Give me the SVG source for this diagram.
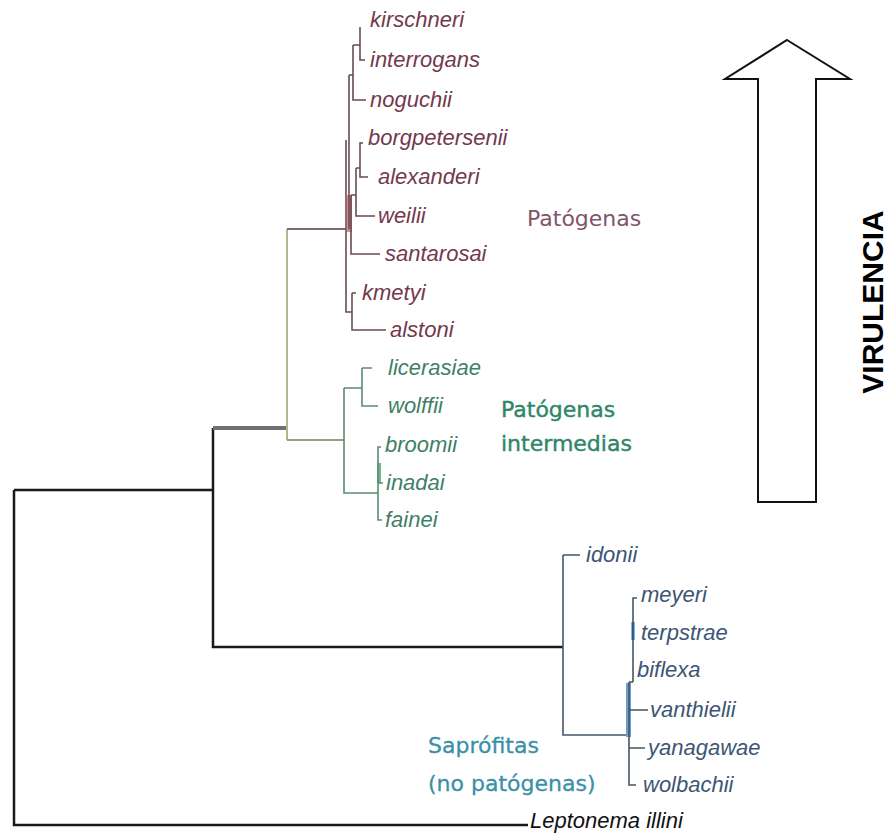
<svg xmlns="http://www.w3.org/2000/svg" width="890" height="834" viewBox="0 0 890 834">
  <style>
    .sp { font-family: "Liberation Sans", Arial, sans-serif; font-style: italic; font-size: 22px; }
    .pat { fill: #73394d; }
    .int { fill: #3f7f66; }
    .sap { fill: #3d5575; }
    .out { fill: #111111; }
    .grp { font-family: "DejaVu Sans", Verdana, sans-serif; font-size: 22px; }
    .root { stroke: #1a1a1a; stroke-width: 2.5; fill: none; }
    .lp { stroke: #6a4a55; stroke-width: 1.6; fill: none; }
    .lg { stroke: #5c8c74; stroke-width: 1.6; fill: none; }
    .ls { stroke: #44556a; stroke-width: 1.6; fill: none; }
  </style>
  <rect width="890" height="834" fill="#ffffff"/>

  <!-- tree branches -->
  <g id="connectors">
    <!-- root and outgroup -->
    <path class="root" d="M14 490 V825 H528 M14 490 H213 M213 428 V647 H563"/>
    <path d="M213 428 H287" stroke="#707070" stroke-width="4" fill="none"/>
    <path d="M287 229 V440" stroke="#b7b58f" stroke-width="2" fill="none"/>
    <path d="M287 229 H346" stroke="#7a6a6e" stroke-width="1.8" fill="none"/>
    <path d="M287 440 H344" stroke="#9a9a82" stroke-width="1.8" fill="none"/>

    <!-- pathogenic clade -->
    <rect x="347" y="195" width="5" height="37" fill="#d98a8a"/>
    <path class="lp" d="M360 27 V60 H365 M353 45 H360 M353 45 V100 H366 M349 75 H353 M349 75 V229"/>
    <path class="lp" d="M363 143 H360 V177 H368 M356 168 H360 M356 168 V216 H375 M351 195 H356 M351 195 V254 H380"/>
    <path class="lp" d="M346 140 V312 H352 M352 293 V330 H386 M352 293 H356"/>

    <!-- intermediate clade -->
    <path class="lg" d="M344 388 V493 H378 M344 388 H362 M362 368 V406 H378 M362 368 H372"/>
    <rect x="377" y="463" width="4" height="20" fill="#6ab890"/>
    <path class="lg" d="M381 447 H378 V520 H382 M378 483 H383"/>

    <!-- saprophytic clade -->
    <path class="ls" d="M563 555 V735 H629 M563 555 H580"/>
    <rect x="626" y="683" width="5" height="54" fill="#6a9fd0"/>
    <path class="ls" d="M629 682 V785 H636 M629 682 H633 M637 598 H633 V682 M629 710 H648 M629 748 H645"/>
    <path d="M633 622 V640" stroke="#2f5d8f" stroke-width="3" fill="none"/>
  </g>

  <!-- taxa -->
  <g id="kirschneri"><text class="sp pat" x="370" y="27">kirschneri</text></g>
  <g id="interrogans"><text class="sp pat" x="370" y="67">interrogans</text></g>
  <g id="noguchii"><text class="sp pat" x="370" y="107">noguchii</text></g>
  <g id="borgpetersenii"><text class="sp pat" x="368" y="145">borgpetersenii</text></g>
  <g id="alexanderi"><text class="sp pat" x="378" y="184">alexanderi</text></g>
  <g id="weilii"><text class="sp pat" x="378" y="223">weilii</text></g>
  <g id="santarosai"><text class="sp pat" x="385" y="261">santarosai</text></g>
  <g id="kmetyi"><text class="sp pat" x="362" y="300">kmetyi</text></g>
  <g id="alstoni"><text class="sp pat" x="390" y="337">alstoni</text></g>

  <g id="licerasiae"><text class="sp int" x="388" y="375">licerasiae</text></g>
  <g id="wolffii"><text class="sp int" x="388" y="413">wolffii</text></g>
  <g id="broomii"><text class="sp int" x="385" y="452">broomii</text></g>
  <g id="inadai"><text class="sp int" x="386" y="490">inadai</text></g>
  <g id="fainei"><text class="sp int" x="385" y="527">fainei</text></g>

  <g id="idonii"><text class="sp sap" x="586" y="562">idonii</text></g>
  <g id="meyeri"><text class="sp sap" x="641" y="602">meyeri</text></g>
  <g id="terpstrae"><text class="sp sap" x="641" y="640">terpstrae</text></g>
  <g id="biflexa"><text class="sp sap" x="637" y="677">biflexa</text></g>
  <g id="vanthielii"><text class="sp sap" x="650" y="717">vanthielii</text></g>
  <g id="yanagawae"><text class="sp sap" x="648" y="755">yanagawae</text></g>
  <g id="wolbachii"><text class="sp sap" x="643" y="792">wolbachii</text></g>

  <g id="leptonema"><text class="sp out" x="530" y="828" font-size="21">Leptonema illini</text></g>

  <!-- group labels -->
  <g id="grupo-patogenas"><text class="grp" x="527" y="226" fill="#7f5568">Patógenas</text></g>
  <g id="grupo-intermedias">
    <text class="grp" x="501" y="417" fill="#2f8668" stroke="#2f8668" stroke-width="0.4">Patógenas</text>
    <text class="grp" x="501" y="451" fill="#2f8668" stroke="#2f8668" stroke-width="0.4">intermedias</text>
  </g>
  <g id="grupo-saprofitas">
    <text class="grp" x="428" y="753" fill="#3b8fa8" stroke="#3b8fa8" stroke-width="0.3">Saprófitas</text>
    <text class="grp" x="428" y="791" fill="#3b8fa8" stroke="#3b8fa8" stroke-width="0.3">(no patógenas)</text>
  </g>

  <!-- virulence arrow -->
  <g id="virulencia">
    <polygon points="787,40 850,79 816,79 816,502 758,502 758,79 725,79" fill="#ffffff" stroke="#111111" stroke-width="2" stroke-linejoin="miter"/>
    <text transform="translate(883 302) rotate(-90)" text-anchor="middle" font-family="Liberation Sans, Arial, sans-serif" font-weight="bold" font-size="30" fill="#000000">VIRULENCIA</text>
  </g>
</svg>
